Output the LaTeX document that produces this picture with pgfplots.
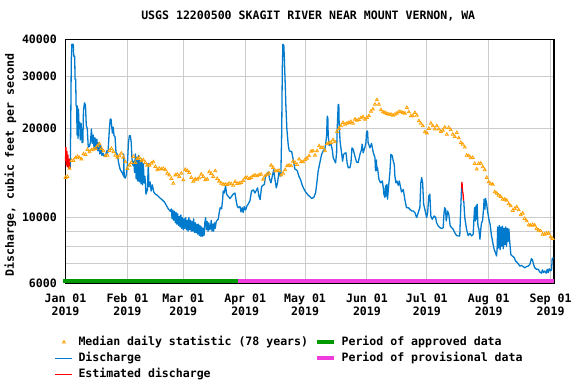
\documentclass[border=0pt]{standalone}
\usepackage{fontspec}
\setmainfont{DejaVu Sans Mono}
\usepackage{pgfplots}
\pgfplotsset{compat=1.18}
\definecolor{qblue}{RGB}{0,122,204}
\definecolor{qorange}{RGB}{255,160,0}
\definecolor{qgreen}{RGB}{0,153,0}
\definecolor{qpink}{RGB}{240,60,220}
\newcommand{\uf}{\fontsize{11.6}{13.3}\selectfont\bfseries}
\begin{document}
\begin{tikzpicture}
\useasboundingbox (-65.5bp,-100.7bp) rectangle (510.5bp,283.3bp);
\begin{axis}[
  scale only axis, width=488.5bp, height=244bp,
  ymode=log, xmin=0, xmax=244.7, ymin=6000, ymax=40000,
  clip=false,
  /pgf/number format/assume math mode=true,
  xtick={0,31,59,90,120,151,181,212,243},
  xticklabels={Jan 01\\2019,Feb 01\\2019,Mar 01\\2019,Apr 01\\2019,May 01\\2019,Jun 01\\2019,Jul 01\\2019,Aug 01\\2019,Sep 01\\2019},
  ytick={6000,7000,8000,9000,10000,20000,30000,40000},
  yticklabels={6000,,,,10000,20000,30000,40000},
  major tick length=0pt, minor tick length=0pt,
  grid=major, major grid style={color=gray!40, line width=0.9bp},
  axis line style={line width=1.2bp},
  xticklabel style={align=center, anchor=north, inner sep=0pt, yshift=-10bp, font=\uf},
  yticklabel style={anchor=east, inner sep=0pt, xshift=-8.5bp, font=\uf},
  title={USGS 12200500 SKAGIT RIVER NEAR MOUNT VERNON, WA},
  title style={at={(axis description cs:0.5,1)}, anchor=base, inner sep=0pt, yshift=14.3bp, xshift=-1.5bp, font=\uf},
  ylabel={Discharge, cubic feet per second},
  ylabel style={at={([xshift=-51.5bp,yshift=-3.7bp]axis description cs:0,0.5)}, anchor=base, inner sep=0pt, font=\uf},
  legend columns=2, legend cell align=left,
  legend style={draw=none, fill=none, at={(axis description cs:0,0)}, anchor=north west,
    xshift=-10.8bp, yshift=-52.7bp, inner sep=0pt, row sep=4bp, font=\uf,
    nodes={inner sep=0pt, text height=9bp, text depth=3bp},
    /tikz/every odd column/.append style={column sep=5.5bp},
    /tikz/every even column/.append style={column sep=7bp}},
]
% approval bars
\addplot[forget plot, draw=qgreen, line width=4bp] coordinates {(-1.1,6095) (86.2,6095)};
\addplot[forget plot, draw=qpink, line width=4bp] coordinates {(86.2,6095) (244.6,6095)};
% median daily statistic
\addplot[forget plot, only marks, mark=triangle, mark size=1.7bp, qorange, mark options={line width=0.8bp}] coordinates {
(0,13650) (1,13750) (2,14650) (3,15570) (4,15570) (5,15900) (6,16070) (7,15900) (8,15740) (9,16400)
(10,16320) (11,16960) (12,16660) (13,16920) (14,17010) (15,17100) (16,17460) (17,17730) (18,17100) (19,16790)
(20,16150) (21,16230) (22,16830) (23,17100) (24,16660) (25,16230) (26,15980) (27,16150) (28,16480) (29,15980)
(30,15410) (31,14640) (32,15020) (33,15330) (34,16070) (35,15330) (36,15820) (37,15940) (38,15530) (39,15650)
(40,15330) (41,15020) (42,15020) (43,15250) (44,15410) (45,14860) (46,14490) (47,14640) (48,14570) (49,14640)
(50,14490) (51,14110) (52,13900) (53,13540) (54,13050) (55,13900) (56,14000) (57,13750) (58,14110) (59,13400)
(60,14530) (61,14400) (62,14180) (63,13650) (64,13260) (65,13470) (66,13470) (67,13610) (68,14000) (69,13750)
(70,13400) (71,13470) (72,14260) (73,14070) (74,13750) (75,14370) (76,13540) (77,13260) (78,13050) (79,12950)
(80,12950) (81,12920) (82,13050) (83,12990) (84,12850) (85,13220) (86,13020) (87,13050) (88,13120) (89,13330)
(90,13610) (91,13650) (92,13540) (93,13650) (94,13820) (95,13900) (96,13820) (97,13930) (98,14000) (99,13470)
(100,13820) (101,14000) (102,14110) (103,15020) (104,14750) (105,14370) (106,14370) (107,14410) (108,13900) (109,14110)
(110,14490) (111,14940) (112,15020) (113,14940) (114,15490) (115,15330) (116,15100) (117,15740) (118,15410) (119,15410)
(120,15700) (121,15860) (122,16150) (123,16740) (124,16790) (125,16230) (126,16790) (127,17460) (128,17230) (129,17230)
(130,16790) (131,17730) (132,17860) (133,17910) (134,18290) (135,18000) (136,19500) (137,19980) (138,20390) (139,20920)
(140,20650) (141,20810) (142,20920) (143,21080) (144,20810) (145,21480) (146,21310) (147,21420) (148,21700) (149,21870)
(150,21480) (151,21760) (152,22040) (153,22850) (154,23220) (155,24120) (156,24970) (157,24120) (158,23100) (159,22730)
(160,22610) (161,22440) (162,22320) (163,22320) (164,22150) (165,22320) (166,22500) (167,22790) (168,22730) (169,22610)
(170,22500) (171,23520) (172,22730) (173,22040) (174,22040) (175,22610) (176,22150) (177,21200) (178,20810) (179,20390)
(180,19460) (181,19300) (182,19980) (183,20810) (184,20390) (185,19880) (186,20390) (187,19880) (188,19500) (189,19720)
(190,20180) (191,19100) (192,20130) (193,19770) (194,19100) (195,18760) (196,19350) (197,18570) (198,17910) (199,17680)
(200,17280) (201,16230) (202,16150) (203,15900) (204,15940) (205,15210) (206,14570) (207,15210) (208,15250) (209,14830)
(210,14490) (211,13650) (212,13190) (213,12990) (214,12950) (215,12210) (216,12080) (217,11890) (218,11770) (219,11530)
(220,11530) (221,11440) (222,11120) (223,10950) (224,10560) (225,10720) (226,10860) (227,10610) (228,10210) (229,10340)
(230,9920) (231,9740) (232,9440) (233,9420) (234,9470) (235,9420) (236,9180) (237,9060) (238,9010) (239,8780)
(240,8780) (241,8850) (242,8850) (243,8600) (244,8490)
};
% discharge
\addplot[forget plot, qblue, line width=1.3bp, line join=round] coordinates {
(2.4,14600) (2.6,19900) (2.9,34000) (3.2,38500) (3.9,38500) (4.1,35100) (4.6,35100) (4.8,29300) (5.1,29300) (5.3,24000)
(5.6,23500) (5.8,19000) (6.0,23800) (6.3,18500) (6.5,23200) (6.8,20000) (7.1,21000) (7.4,18300) (7.8,20800) (8.3,17900)
(8.7,18000) (9.0,23000) (9.5,24400) (10.0,24000) (10.4,20500) (10.9,20000) (11.4,17300) (12.0,17400) (12.5,18000) (13.0,19900)
(13.4,17800) (13.9,19000) (14.3,17200) (14.8,18600) (15.2,17000) (15.7,18400) (16.2,16800) (16.7,17900) (17.2,16400) (17.7,17500)
(18.2,16200) (18.8,16500) (19.4,16100) (20.0,16200) (20.7,16800) (21.3,16600) (21.9,19500) (22.4,21500) (22.8,21500) (23.1,20500)
(23.5,19300) (23.9,20200) (24.3,18900) (24.8,18800) (25.3,16600) (26.0,16300) (26.6,15300) (27.3,14600) (28.0,14300) (28.6,14100)
(29.1,13800) (29.2,16400) (29.4,13700) (30.0,13600) (30.5,14000) (31.0,15000) (31.5,17800) (32.0,18900) (32.5,18900) (32.9,18000)
(33.3,15800) (33.8,15000) (34.2,15500) (34.6,14200) (35.0,16400) (35.4,13500) (35.8,16000) (36.2,13300) (36.6,16200) (37.0,13200)
(37.4,15600) (37.8,13000) (38.2,15800) (38.6,12900) (39.0,15200) (39.4,13100) (39.8,13800) (40.3,12000) (41.0,12400) (41.5,15200)
(41.8,12700) (42.4,13200) (42.9,12300) (43.5,12900) (44.2,12200) (45.0,12000) (46.0,11900) (47.0,11700) (48.3,11500) (49.5,11300)
(50.5,11000) (51.5,10700) (52.5,10500)
(53.0,10700) (53.4,9900) (53.8,10600) (54.2,9800) (54.6,10500) (55.0,9600) (55.4,10400) (55.8,9500) (56.2,10300) (56.6,9400)
(57.0,10100) (57.4,9300) (57.8,10200) (58.2,9200) (58.6,10000) (59.0,9100) (59.4,9900) (59.8,9200) (60.2,10000) (60.6,9100)
(61.0,9800) (61.4,9000) (61.8,10000) (62.2,9100) (62.6,9800) (63.0,9000) (63.4,9700) (63.8,9000) (64.2,9900) (64.6,8900)
(65.0,9600) (65.4,8900) (65.8,9500) (66.2,8800) (66.6,9500) (67.0,8700) (67.4,9400) (67.8,8650) (68.2,9300) (68.6,8650)
(69.0,9200) (69.4,8700) (69.8,9600) (70.2,10000) (70.6,9100) (71.0,9700) (71.4,9000) (71.8,9600) (72.2,9100) (72.6,9200)
(73.0,9800) (73.4,9000) (73.8,9500) (74.2,9000) (74.6,9600) (75.0,9200) (75.5,9700) (76.0,9800)
(76.5,9870) (77.0,10400) (77.5,10800) (78.2,10700) (78.7,11500) (79.0,12300) (79.5,12100) (80.2,12800) (80.7,12000) (81.5,11800)
(82.4,11600) (83.2,11800) (84.0,12000) (84.9,12100) (85.4,11500) (86.0,10950) (86.5,10800) (87.4,10900) (87.9,10450) (88.5,10800)
(89.0,10400) (89.5,10900) (90.2,10600) (90.9,10950) (91.5,11100) (92.4,11400) (93.2,12300) (94.1,12400) (94.9,12100) (95.7,12400)
(96.2,12600) (96.9,11800) (97.5,11500) (98.2,12700) (98.9,12850) (99.6,12950) (100.2,13800) (101.0,14100) (101.6,14250) (102.2,13550)
(102.9,13100) (103.6,13800) (104.3,14500) (104.9,13500) (105.6,12600) (106.2,13100) (106.9,14200) (107.6,13800) (107.9,14200) (108.3,19350)
(108.6,31700) (108.9,38500) (109.4,38000) (109.8,31700) (110.1,27800) (110.4,23800) (110.9,19900) (111.6,17500) (112.1,16800) (113.3,16700)
(114.1,15650) (114.9,14600) (116.1,14400) (116.9,13800) (117.8,13400) (118.6,12850) (119.4,12500) (120.3,12200) (121.6,11900) (122.4,11770)
(123.3,11600) (124.4,11700) (125.3,12150) (125.9,13100) (126.6,14400) (127.4,15300) (128.3,16350) (129.1,16800) (129.9,17000) (130.4,17900)
(130.8,18900) (131.1,22000) (131.4,21800) (131.6,18900) (132.1,17500) (132.9,17800) (133.6,17000) (134.1,15950) (134.6,15650) (135.3,15300)
(135.8,16550) (136.1,19900) (136.6,24100) (136.9,24100) (137.1,20400) (137.6,17900) (138.3,16550) (138.8,15500) (139.3,16350) (139.9,16500)
(140.5,16550) (141.1,15250) (141.6,14750) (142.5,14750) (143.0,15330) (143.5,17200) (144.1,17000) (145.0,16100) (145.8,15400) (146.6,15330)
(147.5,16350) (148.3,17000) (148.6,17700) (149.1,16550) (149.9,17200) (150.5,17900) (150.8,19450) (151.3,19600) (151.6,17900) (152.5,17200)
(153.3,17800) (154.2,16550) (155.0,15950) (155.3,14400) (155.7,15650) (156.0,14400) (156.3,14750) (157.0,13470) (157.8,13100) (158.7,13300)
(159.2,12600) (159.5,12000) (160.0,11700) (160.3,12800) (160.7,11830) (161.0,12950) (161.3,11530) (162.0,13100) (162.5,14200) (163.0,16350)
(163.7,16150) (164.2,15500) (164.7,15100) (165.0,13800) (165.5,13100) (166.0,13300) (166.7,12850) (167.2,13300) (167.7,12800) (168.3,12200)
(169.2,12450) (170.0,11500) (170.8,10800) (171.7,10800) (172.5,10670) (173.4,10530) (174.2,10530) (175.0,10400) (175.9,10000) (176.7,10400)
(177.5,10800) (178.0,13100) (178.4,13650) (178.9,13100) (179.4,11100) (180.0,10670) (180.9,10000) (181.4,10400) (182.0,11830) (182.5,12000)
(183.0,10130) (183.7,9870) (184.7,10130) (185.4,10000) (185.9,9610) (186.7,9370) (187.5,9250) (188.4,9180) (189.2,9250) (189.5,10130)
(189.9,10800) (190.4,10670) (190.7,9740) (191.0,10000) (191.4,10530) (192.0,10260) (192.7,9370) (193.4,9250) (194.2,9130) (195.0,8890)
(195.9,8700) (196.7,8670) (197.5,8670) (197.9,10400) (198.4,12600)
};
\addplot[forget plot, qblue, line width=1.3bp, line join=round] coordinates {
(199.4,11400) (199.5,11400) (200.0,10000) (200.9,9130) (201.7,8700) (202.6,8850) (203.4,8670) (204.2,8780) (204.6,9870) (204.9,10800)
(205.2,9740) (205.6,10950) (205.9,9870) (206.2,11100) (206.6,9370) (207.1,9130) (207.6,8450) (208.1,9250) (208.4,9610) (208.9,9740)
(209.4,10670) (209.7,11530) (210.1,10670) (210.4,11600) (210.9,11230) (211.4,10530) (212.1,9870) (212.7,9490) (213.4,8670) (214.2,8130)
(214.7,7820) (215.4,7610) (215.9,7420) (216.2,7820) (216.5,9300) (216.9,7900) (217.3,9400) (217.7,7800) (218.1,9300) (218.5,8000)
(218.9,9350) (219.3,7850) (219.7,9200) (220.1,8100) (220.5,9300) (220.9,8000) (221.3,9200) (221.7,8300) (222.1,9150) (222.5,8300)
(223.1,7500) (223.8,7420) (224.8,7330) (225.4,7140) (226.4,7040) (227.6,6860) (228.4,6900) (229.3,6830) (230.1,6770) (230.9,6830)
(231.8,6860) (232.6,6950) (233.4,7270) (233.9,7200) (234.6,6900) (235.1,6770) (235.9,6690) (236.8,6690) (237.6,6550) (238.4,6490)
(238.9,6660) (239.4,6520) (240.1,6600) (240.8,6490) (241.3,6690) (241.8,6520) (242.3,6720) (243.0,6600) (243.5,6690) (243.8,7270)
(244.5,7330)
};
% estimated discharge
\addplot[forget plot, red, line width=1.3bp] coordinates {
(0,15500) (0.2,17300) (0.45,15000) (0.7,16800) (0.95,14800) (1.2,16300) (1.5,14700) (1.8,15800) (2.1,14800) (2.4,14600)
};
\addplot[forget plot, red, line width=1.3bp] coordinates {
(198.4,12600) (198.6,13200) (198.9,12200) (199.1,12100) (199.4,11400)
};
% legend
\addlegendimage{only marks, mark=triangle, mark size=1.7bp, qorange, mark options={line width=0.8bp}}
\addlegendentry{Median daily statistic (78 years)}
\addlegendimage{qgreen, line width=4bp}
\addlegendentry{Period of approved data}
\addlegendimage{qblue, line width=1.1bp}
\addlegendentry{Discharge}
\addlegendimage{qpink, line width=4bp}
\addlegendentry{Period of provisional data}
\addlegendimage{red, line width=1.1bp}
\addlegendentry{Estimated discharge}
\end{axis}
\end{tikzpicture}
\end{document}
